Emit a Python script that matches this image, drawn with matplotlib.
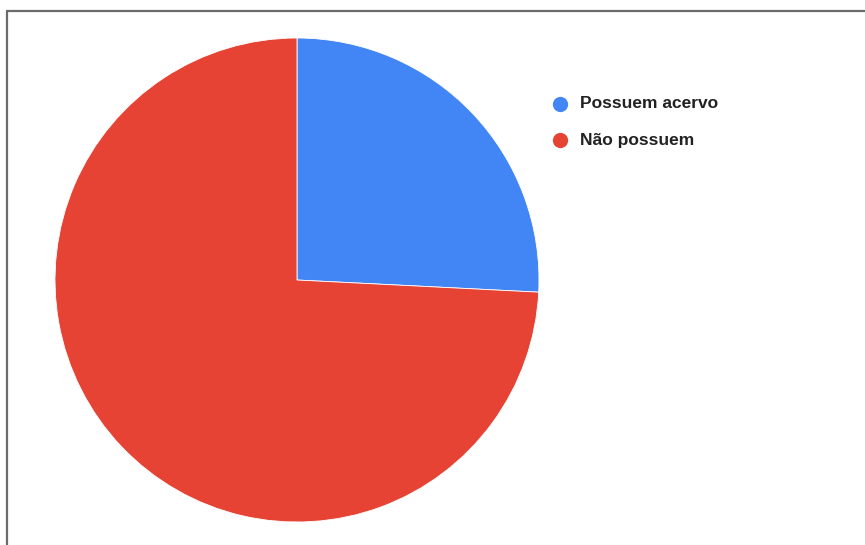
import matplotlib
matplotlib.use("Agg")
import matplotlib.pyplot as plt
from matplotlib.lines import Line2D

labels = ["Possuem acervo", "Não possuem"]
values = [25.8, 74.2]
colors = ["#4285f4", "#e64335"]

W, H = 865, 545
fig = plt.figure(figsize=(W / 100, H / 100), dpi=100)
fig.patch.set_facecolor("white")

# pie axes: center (297,280), radius 242 px
cx, cy, r = 297, 280, 242
ax = fig.add_axes([(cx - r) / W, (H - cy - r) / H, 2 * r / W, 2 * r / H])
ax.pie(values, colors=colors, startangle=90, counterclock=False,
       radius=1, wedgeprops=dict(linewidth=0.6, edgecolor="white"))
ax.set_xlim(-1, 1)
ax.set_ylim(-1, 1)
ax.set_aspect("equal")
ax.axis("off")

# frame border (top and left lines)
bx, by = 7, 11
fig.add_artist(Line2D([bx / W, bx / W], [0, 1 - by / H], transform=fig.transFigure,
                      color="#6b6b6b", linewidth=1.6, solid_capstyle="butt"))
fig.add_artist(Line2D([bx / W - 0.8 / W, 1], [1 - by / H, 1 - by / H], transform=fig.transFigure,
                      color="#6b6b6b", linewidth=1.6, solid_capstyle="butt"))

# legend
ys = [104, 140]
for lab, col, y in zip(labels, colors, ys):
    fig.add_artist(Line2D([560 / W], [1 - y / H], transform=fig.transFigure,
                          marker="o", markersize=11, color=col, markeredgewidth=0,
                          linestyle="none"))
    fig.text(580 / W, 1 - y / H, lab, ha="left", va="center",
             fontsize=12.5, fontweight="bold", family="Liberation Sans", color="#222222")

fig.savefig("out.png", dpi=100)
